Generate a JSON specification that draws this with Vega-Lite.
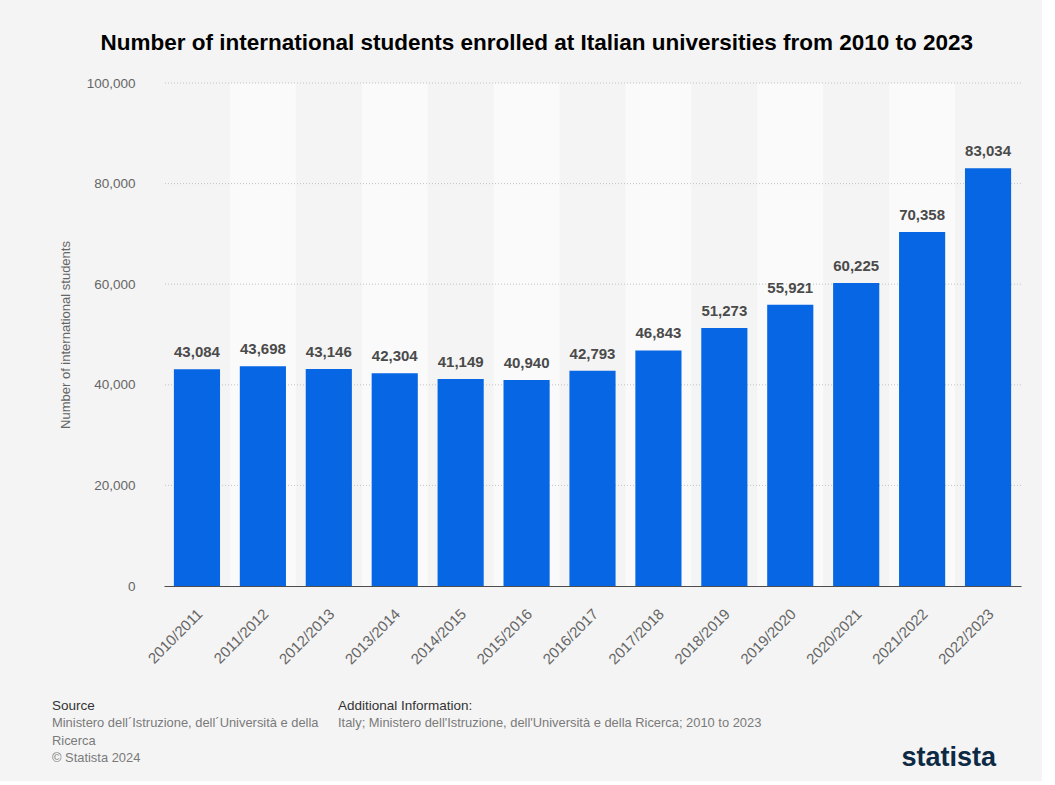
{
  "$schema": "https://vega.github.io/schema/vega-lite/v6.json",
  "background": "#f4f4f4",
  "padding": {"left": 52, "top": 31, "right": 20, "bottom": 10},
  "bounds": "flush",
  "spacing": 120,
  "title": {
    "text": "Number of international students enrolled at Italian universities from 2010 to 2023",
    "font": "Liberation Sans",
    "fontSize": 22.5,
    "fontWeight": "bold",
    "color": "#000000",
    "anchor": "middle",
    "offset": 22
  },
  "config": {
    "view": {"stroke": null},
    "font": "Liberation Sans",
    "axis": {"labelFont": "Liberation Sans", "titleFont": "Liberation Sans"}
  },
  "vconcat": [
    {
      "width": 857,
      "height": 503,
      "data": {
        "values": [
          {"year": "2010/2011", "students": 43084},
          {"year": "2011/2012", "students": 43698},
          {"year": "2012/2013", "students": 43146},
          {"year": "2013/2014", "students": 42304},
          {"year": "2014/2015", "students": 41149},
          {"year": "2015/2016", "students": 40940},
          {"year": "2016/2017", "students": 42793},
          {"year": "2017/2018", "students": 46843},
          {"year": "2018/2019", "students": 51273},
          {"year": "2019/2020", "students": 55921},
          {"year": "2020/2021", "students": 60225},
          {"year": "2021/2022", "students": 70358},
          {"year": "2022/2023", "students": 83034}
        ]
      },
      "layer": [
        {
          "transform": [
            {"window": [{"op": "row_number", "as": "i"}]},
            {"filter": "datum.i % 2 == 0"}
          ],
          "mark": {"type": "bar", "color": "#fafafa", "width": {"band": 1.4286}},
          "encoding": {
            "x": {
              "field": "year",
              "type": "nominal",
              "scale": {
                "domain": ["2010/2011", "2011/2012", "2012/2013", "2013/2014", "2014/2015", "2015/2016", "2016/2017", "2017/2018", "2018/2019", "2019/2020", "2020/2021", "2021/2022", "2022/2023"],
                "paddingInner": 0.3,
                "paddingOuter": 0.15
              },
              "axis": {
                "title": null,
                "labelAngle": -45,
                "labelAlign": "right",
                "labelBaseline": "middle",
                "labelFontSize": 15,
                "labelColor": "#666666",
                "labelPadding": 25,
                "labelOffset": 3,
                "ticks": false,
                "grid": false,
                "domain": true,
                "domainColor": "#4d4d4d",
                "domainWidth": 1.2
              }
            },
            "y": {
              "datum": 100000,
              "type": "quantitative",
              "scale": {"domain": [0, 100000], "nice": false},
              "axis": {
                "title": "Number of international students",
                "titleFontSize": 13,
                "titleFontWeight": "normal",
                "titleColor": "#666666",
                "titlePadding": 14,
                "labelFontSize": 13.5,
                "labelColor": "#666666",
                "labelPadding": 29,
                "ticks": false,
                "domain": false,
                "grid": false,
                "values": [0, 20000, 40000, 60000, 80000, 100000],
                "format": ",d"
              }
            },
            "y2": {"datum": 0}
          }
        },
        {
          "data": {"values": [{"v": 20000}, {"v": 40000}, {"v": 60000}, {"v": 80000}, {"v": 100000}]},
          "mark": {"type": "rule", "color": "#c4c4c4", "strokeDash": [1, 2], "strokeWidth": 1},
          "encoding": {
            "y": {"field": "v", "type": "quantitative"}
          }
        },
        {
          "mark": {"type": "bar", "color": "#0766e3"},
          "encoding": {
            "x": {"field": "year", "type": "nominal"},
            "y": {"field": "students", "type": "quantitative"}
          }
        },
        {
          "mark": {
            "type": "text",
            "font": "Liberation Sans",
            "fontSize": 15,
            "fontWeight": "bold",
            "color": "#4a4a4a",
            "baseline": "alphabetic",
            "dy": -12
          },
          "encoding": {
            "x": {"field": "year", "type": "nominal"},
            "y": {"field": "students", "type": "quantitative"},
            "text": {"field": "students", "type": "quantitative", "format": ","}
          }
        }
      ]
    },
    {
      "width": 857,
      "height": 52,
      "data": {
        "values": [
          {"col": "source", "line": "1", "text": "Source"},
          {"col": "source", "line": "2", "text": "Ministero dell´Istruzione, dell´Università e della"},
          {"col": "source", "line": "3", "text": "Ricerca"},
          {"col": "source", "line": "4", "text": "© Statista 2024"},
          {"col": "info", "line": "1", "text": "Additional Information:"},
          {"col": "info", "line": "2", "text": "Italy; Ministero dell'Istruzione, dell'Università e della Ricerca; 2010 to 2023"},
          {"col": "logo", "line": "4", "text": "statista"}
        ]
      },
      "resolve": {"scale": {"x": "independent"}},
      "encoding": {
        "y": {
          "field": "line",
          "type": "nominal",
          "scale": {"domain": ["1", "2", "3", "4"], "range": [0, 52], "padding": 0},
          "axis": null
        }
      },
      "layer": [
        {
          "transform": [{"filter": "datum.col != 'logo' && datum.line == '1'"}],
          "mark": {"type": "text", "align": "left", "baseline": "middle", "fontSize": 13.5, "color": "#333333"},
          "encoding": {
            "x": {"field": "col", "type": "nominal", "scale": {"domain": ["source", "info"], "range": [-112, 174], "padding": 0}, "axis": null},
            "text": {"field": "text"}
          }
        },
        {
          "transform": [{"filter": "datum.col != 'logo' && datum.line != '1'"}],
          "mark": {"type": "text", "align": "left", "baseline": "middle", "fontSize": 12.9, "color": "#7a7a7a"},
          "encoding": {
            "x": {"field": "col", "type": "nominal", "scale": {"domain": ["source", "info"], "range": [-112, 174], "padding": 0}, "axis": null},
            "text": {"field": "text"}
          }
        },
        {
          "transform": [{"filter": "datum.col == 'logo'"}],
          "mark": {"type": "text", "align": "right", "baseline": "middle", "fontSize": 27, "fontWeight": "bold", "color": "#0d2a45"},
          "encoding": {
            "x": {"field": "col", "type": "nominal", "scale": {"domain": ["logo"], "range": [832, 832]}, "axis": null},
            "text": {"field": "text"}
          }
        }
      ]
    }
  ]
}
